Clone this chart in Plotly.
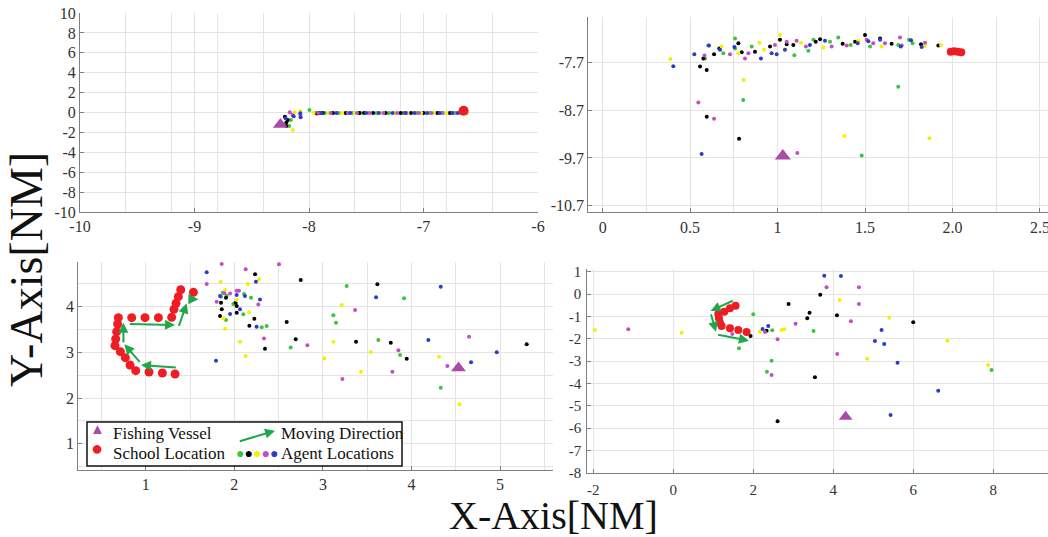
import plotly.graph_objects as go

# ---------------- data ----------------
# Panel 1 (top-left)
P1_VESSEL_X = [-8.25]
P1_VESSEL_Y = [-1.2]
P1_SCHOOL_X = [-6.65]
P1_SCHOOL_Y = [0.18]
P1_GREEN_X = [-7.996, -8.158, -8.173, -7.94, -7.86, -7.74, -7.62, -7.55, -7.41, -7.30, -7.18, -7.06, -6.95, -6.83, -6.72]
P1_GREEN_Y = [0.25, -0.75, -1.36, -0.05, -0.04, -0.06, -0.05, -0.04, -0.05, -0.06, -0.04, -0.05, -0.05, -0.04, -0.06]
P1_BLACK_X = [-8.21, -8.186, -8.198, -8.198, -7.93, -7.91, -7.88, -7.79, -7.68, -7.56, -7.52, -7.44, -7.33, -7.20, -7.11, -7.00, -6.88, -6.77, -6.67]
P1_BLACK_Y = [-0.42, -0.75, -1.01, -1.36, -0.11, -0.06, -0.05, -0.05, -0.06, -0.04, -0.05, -0.05, -0.06, -0.05, -0.04, -0.05, -0.06, -0.05, -0.04]
P1_YELLOW_X = [-8.126, -8.141, -8.076, -7.96, -7.83, -7.71, -7.60, -7.48, -7.37, -7.25, -7.14, -7.02, -6.91, -6.80, -6.69, -6.62]
P1_YELLOW_Y = [0.02, -1.76, 0.15, -0.04, -0.05, -0.05, -0.04, -0.06, -0.05, -0.05, -0.04, -0.06, -0.05, -0.05, -0.04, -0.06]
P1_MAGENTA_X = [-8.168, -8.144, -8.076, -7.92, -7.81, -7.66, -7.58, -7.47, -7.35, -7.23, -7.15, -7.04, -6.93, -6.84, -6.74]
P1_MAGENTA_Y = [0.02, -0.25, -0.25, -0.05, -0.06, -0.05, -0.04, -0.05, -0.05, -0.06, -0.04, -0.05, -0.05, -0.06, -0.05]
P1_BLUE_X = [-8.204, -8.073, -8.076, -8.134, -7.89, -7.76, -7.64, -7.50, -7.39, -7.27, -7.16, -7.08, -6.97, -6.86, -6.75, -6.70]
P1_BLUE_Y = [-0.58, -0.48, -0.08, -0.38, -0.06, -0.05, -0.05, -0.04, -0.05, -0.06, -0.05, -0.04, -0.05, -0.05, -0.06, -0.05]

# Panel 2 (top-right)
P2_VESSEL_X = [1.03]
P2_VESSEL_Y = [-9.66]
P2_SCHOOL_X = [1.99, 2.01, 2.03, 2.05]
P2_SCHOOL_Y = [-7.48, -7.47, -7.48, -7.49]
P2_YELLOW_X = [0.387, 1.014, 0.896, 0.806, 1.868, 1.382, 0.68, 0.776, 0.922, 1.134, 1.262, 1.462, 1.595, 1.843, 1.934, 1.046]
P2_YELLOW_Y = [-7.63, -7.13, -7.29, -8.07, -9.29, -9.24, -7.37, -7.51, -7.43, -7.29, -7.39, -7.25, -7.37, -7.36, -7.34, -7.43]
P2_BLACK_X = [0.557, 0.595, 0.595, 0.78, 0.576, 0.637, 0.667, 0.776, 0.795, 0.871, 0.957, 1.014, 1.052, 1.09, 1.218, 1.243, 1.372, 1.443, 1.5, 1.586, 1.652, 1.82, 1.919]
P2_BLACK_Y = [-7.79, -7.86, -8.84, -9.3, -7.62, -7.53, -7.41, -7.3, -7.49, -7.48, -7.37, -7.23, -7.32, -7.34, -7.27, -7.22, -7.31, -7.27, -7.13, -7.2, -7.31, -7.32, -7.35]
P2_GREEN_X = [0.604, 0.585, 0.757, 0.757, 0.69, 0.852, 1.096, 1.176, 1.205, 1.3, 1.347, 1.418, 1.529, 1.69, 1.751, 1.772, 0.804, 1.69, 1.481]
P2_GREEN_Y = [-7.35, -7.62, -7.2, -7.41, -7.51, -7.37, -7.55, -7.46, -7.23, -7.27, -7.18, -7.34, -7.37, -7.34, -7.23, -7.3, -8.49, -8.21, -9.65]
P2_MAGENTA_X = [0.547, 0.637, 1.113, 0.582, 0.728, 0.814, 0.833, 0.985, 1.052, 1.109, 1.162, 1.309, 1.395, 1.509, 1.614, 1.7, 1.843, 1.71, 1.547]
P2_MAGENTA_Y = [-8.54, -8.88, -9.6, -7.56, -7.53, -7.62, -7.51, -7.34, -7.27, -7.25, -7.37, -7.37, -7.35, -7.23, -7.3, -7.18, -7.29, -7.35, -7.3]
P2_BLUE_X = [0.404, 0.524, 0.566, 0.608, 0.671, 0.753, 0.905, 0.966, 0.995, 1.042, 1.185, 1.271, 1.458, 1.519, 1.586, 1.704, 1.763, 1.824]
P2_BLUE_Y = [-7.78, -7.53, -9.62, -7.35, -7.44, -7.38, -7.62, -7.51, -7.53, -7.44, -7.34, -7.25, -7.3, -7.26, -7.23, -7.37, -7.24, -7.38]

# Panel 3 (bottom-left)
P3_VESSEL_X = [4.53]
P3_VESSEL_Y = [2.66]
P3_SCHOOL_X = [1.331, 1.188, 1.037, 0.887, 0.823, 0.770, 0.714, 0.653, 0.661, 0.672, 0.683, 0.691, 0.842, 0.992, 1.143, 1.293, 1.319, 1.342, 1.368, 1.395, 1.538]
P3_SCHOOL_Y = [2.526, 2.548, 2.570, 2.599, 2.723, 2.884, 3.015, 3.147, 3.293, 3.453, 3.621, 3.760, 3.760, 3.760, 3.760, 3.767, 3.942, 4.073, 4.219, 4.372, 4.314]
P3_ARROW_FROM_X = [1.357, 0.947, 0.748, 0.804, 1.369, 1.482]
P3_ARROW_FROM_Y = [2.664, 2.759, 3.183, 3.621, 3.548, 4.161]
P3_ARROW_TO_X = [0.947, 0.759, 0.748, 1.331, 1.463, 1.594]
P3_ARROW_TO_Y = [2.723, 3.175, 3.650, 3.599, 4.073, 4.161]
P3_MAGENTA_X = [1.858, 1.688, 2.128, 2.504, 1.801, 1.887, 2.027, 2.053, 2.271, 2.335, 2.825, 3.363, 3.22, 3.784, 3.852, 4.405, 4.65, 1.952]
P3_MAGENTA_Y = [4.935, 4.496, 4.818, 4.927, 4.11, 4.293, 4.35, 4.35, 4.05, 3.306, 3.153, 3.927, 2.416, 2.577, 3.044, 2.701, 3.343, 4.29]
P3_BLUE_X = [1.688, 1.793, 2.244, 2.29, 1.839, 1.952, 2.12, 2.064, 2.252, 3.6, 4.33, 4.19, 4.672, 4.962, 2.027]
P3_BLUE_Y = [4.752, 2.817, 4.547, 4.16, 4.233, 3.84, 4.233, 3.942, 3.562, 4.204, 4.438, 3.27, 2.782, 3.0, 4.255]
P3_YELLOW_X = [1.846, 2.279, 2.151, 1.895, 1.895, 2.064, 2.128, 2.166, 3.212, 3.118, 3.016, 3.539, 3.43, 4.311, 4.541, 2.027, 1.876]
P3_YELLOW_Y = [4.547, 4.598, 4.496, 4.365, 3.518, 3.234, 2.921, 3.877, 4.037, 3.234, 2.869, 3.007, 2.577, 2.906, 1.861, 4.146, 3.745]
P3_BLACK_X = [2.234, 2.75, 1.906, 1.85, 2.015, 2.027, 1.858, 1.839, 2.027, 2.226, 2.17, 2.346, 2.591, 2.693, 3.374, 3.615, 3.766, 3.946, 5.3]
P3_BLACK_Y = [4.708, 4.584, 4.197, 4.088, 4.088, 4.015, 3.942, 3.796, 3.869, 3.737, 3.584, 3.081, 3.664, 3.285, 3.234, 4.489, 3.212, 2.862, 3.175]
P3_GREEN_X = [1.869, 1.914, 1.989, 2.109, 2.188, 1.906, 2.101, 2.365, 2.309, 2.636, 3.118, 3.148, 3.268, 3.626, 3.871, 3.916, 4.33, 1.85]
P3_GREEN_Y = [4.307, 4.241, 4.059, 4.277, 4.197, 3.708, 3.832, 3.577, 3.548, 3.109, 3.81, 3.65, 4.453, 3.27, 2.942, 4.183, 2.226, 4.219]

# Panel 4 (bottom-right)
P4_VESSEL_X = [4.31]
P4_VESSEL_Y = [-5.5]
P4_SCHOOL_X = [1.558, 1.417, 1.275, 1.125, 1.142, 1.167, 1.208, 1.417, 1.625, 1.833]
P4_SCHOOL_Y = [-0.522, -0.642, -0.791, -0.896, -1.09, -1.284, -1.433, -1.537, -1.612, -1.701]
P4_ARROW_FROM_X = [1.525, 0.933, 1.083]
P4_ARROW_FROM_Y = [-0.269, -0.836, -1.806]
P4_ARROW_TO_X = [0.933, 1.067, 1.892]
P4_ARROW_TO_Y = [-0.761, -1.687, -2.09]
P4_YELLOW_X = [-1.958, 0.208, 2.167, 2.708, 2.775, 4.158, 4.85, 5.4, 6.858, 7.875]
P4_YELLOW_Y = [-1.612, -1.731, -1.687, -1.612, -1.582, -0.269, -2.896, -1.06, -2.09, -3.179]
P4_MAGENTA_X = [-1.125, 1.475, 2.292, 2.608, 2.458, 3.058, 3.833, 4.442, 4.642, 4.642, 4.1]
P4_MAGENTA_Y = [-1.582, -1.791, -1.701, -2.03, -3.627, -1.328, 0.299, -1.224, 0.299, -0.448, -2.687]
P4_GREEN_X = [2.0, 1.642, 2.475, 2.458, 2.342, 3.508, 7.958]
P4_GREEN_Y = [-0.91, -2.433, -1.627, -2.985, -3.478, -1.657, -3.403]
P4_BLACK_X = [1.933, 2.333, 2.883, 3.675, 3.408, 3.35, 4.092, 3.542, 2.608, 6.0]
P4_BLACK_Y = [-1.881, -1.642, -0.448, -0.03, -0.836, -1.09, -0.955, -3.731, -5.701, -1.269]
P4_BLUE_X = [1.275, 2.233, 2.375, 3.775, 4.192, 5.042, 5.208, 5.275, 5.608, 6.625, 5.433]
P4_BLUE_Y = [-0.836, -1.567, -1.433, 0.821, 0.806, -2.104, -1.612, -2.239, -3.075, -4.328, -5.418]

# Tick labels
P1_XTICKS = [-10, -9, -8, -7, -6]
P1_YTICKS = [10, 8, 6, 4, 2, 0, -2, -4, -6, -8, -10]
P2_XTICKS = [0, 0.5, 1, 1.5, 2.0, 2.5]
P2_XTICKTEXT = ["0", "0.5", "1", "1.5", "2.0", "2.5"]
P2_YTICKS = [-7.7, -8.7, -9.7, -10.7]
P3_XTICKS = [1, 2, 3, 4, 5]
P3_YTICKS = [1, 2, 3, 4]
P4_XTICKS = [-2, 0, 2, 4, 6, 8]
P4_YTICKS = [1, 0, -1, -2, -3, -4, -5, -6, -7, -8]

# ---------------- styles ----------------
W, H = 1048, 537
SERIF = "Liberation Serif"
C_GREEN = "#3cc43c"
C_BLACK = "#000000"
C_YELLOW = "#f2f200"
C_MAGENTA = "#c64cc6"
C_BLUE = "#2a3ccc"
C_VESSEL = "#a94ca3"
C_SCHOOL = "#ee1d23"
C_ARROW = "#1fa84a"
GRID = "#e4e4e4"
AXLINE = "#808080"

fig = go.Figure()

def add_panel(n, agents, school, vessel):
    xa = "x" if n == 1 else f"x{n}"
    ya = "y" if n == 1 else f"y{n}"
    for (xs, ys, col) in agents:
        fig.add_trace(go.Scatter(x=xs, y=ys, mode="markers", xaxis=xa, yaxis=ya,
                                 marker=dict(size=4, color=col, line=dict(width=0)),
                                 showlegend=False, hoverinfo="skip"))
    fig.add_trace(go.Scatter(x=school[0], y=school[1], mode="markers", xaxis=xa, yaxis=ya,
                             marker=dict(size=school[2], color=C_SCHOOL, line=dict(width=0)),
                             showlegend=False, hoverinfo="skip"))
    fig.add_trace(go.Scatter(x=vessel[0], y=vessel[1], mode="markers", xaxis=xa, yaxis=ya,
                             marker=dict(size=vessel[2], symbol="triangle-up", color=C_VESSEL, line=dict(width=0)),
                             showlegend=False, hoverinfo="skip"))

add_panel(1, [(P1_GREEN_X, P1_GREEN_Y, C_GREEN), (P1_BLACK_X, P1_BLACK_Y, C_BLACK),
              (P1_YELLOW_X, P1_YELLOW_Y, C_YELLOW), (P1_MAGENTA_X, P1_MAGENTA_Y, C_MAGENTA),
              (P1_BLUE_X, P1_BLUE_Y, C_BLUE)],
          (P1_SCHOOL_X, P1_SCHOOL_Y, 10), (P1_VESSEL_X, P1_VESSEL_Y, 13))
add_panel(2, [(P2_GREEN_X, P2_GREEN_Y, C_GREEN), (P2_BLACK_X, P2_BLACK_Y, C_BLACK),
              (P2_YELLOW_X, P2_YELLOW_Y, C_YELLOW), (P2_MAGENTA_X, P2_MAGENTA_Y, C_MAGENTA),
              (P2_BLUE_X, P2_BLUE_Y, C_BLUE)],
          (P2_SCHOOL_X, P2_SCHOOL_Y, 8), (P2_VESSEL_X, P2_VESSEL_Y, 14))
add_panel(3, [(P3_GREEN_X, P3_GREEN_Y, C_GREEN), (P3_BLACK_X, P3_BLACK_Y, C_BLACK),
              (P3_YELLOW_X, P3_YELLOW_Y, C_YELLOW), (P3_MAGENTA_X, P3_MAGENTA_Y, C_MAGENTA),
              (P3_BLUE_X, P3_BLUE_Y, C_BLUE)],
          (P3_SCHOOL_X, P3_SCHOOL_Y, 9), (P3_VESSEL_X, P3_VESSEL_Y, 13))
add_panel(4, [(P4_GREEN_X, P4_GREEN_Y, C_GREEN), (P4_BLACK_X, P4_BLACK_Y, C_BLACK),
              (P4_YELLOW_X, P4_YELLOW_Y, C_YELLOW), (P4_MAGENTA_X, P4_MAGENTA_Y, C_MAGENTA),
              (P4_BLUE_X, P4_BLUE_Y, C_BLUE)],
          (P4_SCHOOL_X, P4_SCHOOL_Y, 8), (P4_VESSEL_X, P4_VESSEL_Y, 12))

def px_x(p):
    return p / W

def px_y(p):
    return 1 - p / H

def fmt(v):
    # plain hyphen-minus, as in the reference
    return f"{v:g}"

base = dict(showline=True, linecolor=AXLINE, linewidth=1, mirror=False,
            ticks="inside", ticklen=4, tickcolor=AXLINE,
            showgrid=True, gridcolor=GRID, gridwidth=1, zeroline=False,
            tickfont=dict(family=SERIF, size=16, color="#333333"),
            fixedrange=True, automargin=False)

def ax(ticks_, text_=None, **kw):
    d = dict(base)
    d.update(tickvals=ticks_, ticktext=text_ if text_ is not None else [fmt(v) for v in ticks_])
    d.update(kw)
    return d

SMALL_TICK = dict(family=SERIF, size=15, color="#333333")

fig.update_layout(
    template="none",
    width=W, height=H,
    autosize=False,
    margin=dict(l=0, r=0, t=0, b=0, pad=0, autoexpand=False),
    paper_bgcolor="white", plot_bgcolor="white",
    showlegend=False,
    font=dict(family=SERIF),
    # panel 1
    xaxis=ax(P1_XTICKS, domain=[px_x(80), px_x(538)], anchor="y", range=[-10, -6],
             minor=dict(dtick=0.4, tick0=-10, showgrid=True, gridcolor=GRID, ticks="")),
    yaxis=ax(P1_YTICKS, domain=[px_y(212), px_y(13)], anchor="x", range=[-10, 10]),
    # panel 2
    xaxis2=ax(P2_XTICKS, P2_XTICKTEXT, domain=[px_x(588.3), 1.0], anchor="y2", range=[-0.082, 2.546],
              ticklabeloverflow="allow",
              minor=dict(dtick=0.25, tick0=0, showgrid=True, gridcolor=GRID, ticks="")),
    yaxis2=ax(P2_YTICKS, [f"{v:.1f}" for v in P2_YTICKS], domain=[px_y(212.3), px_y(16.7)],
              anchor="x2", range=[-10.838, -6.746]),
    # panel 3
    xaxis3=ax(P3_XTICKS, domain=[px_x(78.3), px_x(553)], anchor="y3", range=[0.239, 5.597],
              minor=dict(dtick=0.5, tick0=0, showgrid=True, gridcolor=GRID, ticks="")),
    yaxis3=ax(P3_YTICKS, domain=[px_y(470), px_y(261.7)], anchor="x3", range=[0.424, 4.985],
              minor=dict(dtick=0.5, tick0=0, showgrid=True, gridcolor=GRID, ticks="")),
    # panel 4
    xaxis4=ax(P4_XTICKS, domain=[px_x(587.3), 1.0], anchor="y4", range=[-2.15, 9.37],
              tickfont=SMALL_TICK, ticklabelstandoff=3),
    yaxis4=ax(P4_YTICKS, domain=[px_y(472.7), px_y(269.3)], anchor="x4", range=[-8.0, 1.107],
              tickfont=SMALL_TICK, ticklabelstandoff=2),
)

annotations = []
# moving-direction arrows in panels 3 and 4
for fx, fy, tx, ty in zip(P3_ARROW_FROM_X, P3_ARROW_FROM_Y, P3_ARROW_TO_X, P3_ARROW_TO_Y):
    annotations.append(dict(x=tx, y=ty, ax=fx, ay=fy, xref="x3", yref="y3", axref="x3", ayref="y3",
                            showarrow=True, arrowhead=2, arrowsize=1, arrowwidth=2,
                            arrowcolor=C_ARROW, text=""))
for fx, fy, tx, ty in zip(P4_ARROW_FROM_X, P4_ARROW_FROM_Y, P4_ARROW_TO_X, P4_ARROW_TO_Y):
    annotations.append(dict(x=tx, y=ty, ax=fx, ay=fy, xref="x4", yref="y4", axref="x4", ayref="y4",
                            showarrow=True, arrowhead=2, arrowsize=1, arrowwidth=2,
                            arrowcolor=C_ARROW, text=""))

# axis titles
annotations.append(dict(text="X-Axis[NM]", x=px_x(553), y=px_y(515), xref="paper", yref="paper",
                        showarrow=False, xanchor="center", yanchor="middle",
                        font=dict(family=SERIF, size=40, color="#111111")))
annotations.append(dict(text="Y-Axis[NM]", x=px_x(26), y=px_y(270), xref="paper", yref="paper",
                        showarrow=False, xanchor="center", yanchor="middle", textangle=-90,
                        font=dict(family=SERIF, size=46, color="#111111")))

# legend (inside panel 3)
LEG_FONT = dict(family=SERIF, size=17, color="#111111")
annotations += [
    dict(text="▲", x=px_x(97.3), y=px_y(429), xref="paper", yref="paper", showarrow=False,
         xanchor="center", yanchor="middle", font=dict(family=SERIF, size=15, color=C_VESSEL)),
    dict(text="●", x=px_x(97.3), y=px_y(447.5), xref="paper", yref="paper", showarrow=False,
         xanchor="center", yanchor="middle", font=dict(family=SERIF, size=20, color=C_SCHOOL)),
    dict(text="Fishing Vessel", x=px_x(111), y=px_y(433), xref="paper", yref="paper", showarrow=False,
         xanchor="left", yanchor="middle", font=LEG_FONT),
    dict(text="School Location", x=px_x(111), y=px_y(453), xref="paper", yref="paper", showarrow=False,
         xanchor="left", yanchor="middle", font=LEG_FONT),
    dict(text="Moving Direction", x=px_x(279), y=px_y(433), xref="paper", yref="paper", showarrow=False,
         xanchor="left", yanchor="middle", font=LEG_FONT),
    dict(text="Agent Locations", x=px_x(279), y=px_y(453), xref="paper", yref="paper", showarrow=False,
         xanchor="left", yanchor="middle", font=LEG_FONT),
    dict(text="".join(f"<span style='color:{c}'>●</span>" for c in [C_GREEN, C_BLACK, C_YELLOW, C_MAGENTA, C_BLUE]),
         x=px_x(256.5), y=px_y(453.5), xref="paper", yref="paper", showarrow=False,
         xanchor="center", yanchor="middle", font=dict(family=SERIF, size=14)),
    dict(text="", x=px_x(275), y=px_y(430.7), xref="paper", yref="paper", ax=-36.7, ay=11,
         showarrow=True, arrowhead=2, arrowsize=1, arrowwidth=2, arrowcolor=C_ARROW),
]
fig.update_layout(annotations=annotations)

fig.add_shape(type="rect", xref="paper", yref="paper",
              x0=px_x(87), x1=px_x(402), y0=px_y(466), y1=px_y(422),
              line=dict(color="#111111", width=1.5), fillcolor="white", layer="above")

# remove the browser's default page margin so the 1048x537 figure fills the window exactly
fig.write_html("out.html", config={"displayModeBar": False},
               post_script="document.body.style.margin='0px';document.body.style.overflow='hidden';")
